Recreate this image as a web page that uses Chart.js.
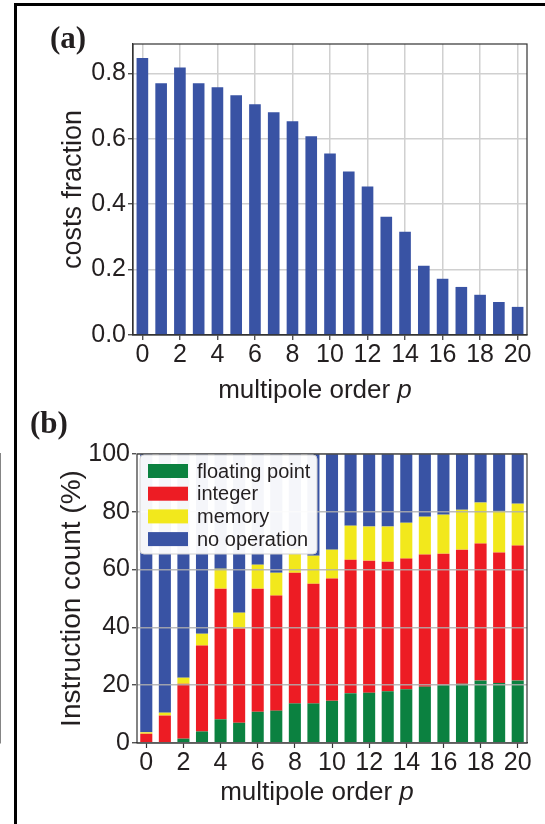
<!DOCTYPE html>
<html>
<head>
<meta charset="utf-8">
<script src="https://cdn.jsdelivr.net/npm/chart.js@4.4.1/dist/chart.umd.min.js"></script>
<style>
    html, body { margin: 0; padding: 0; background: #fff; }
    #page { position: relative; width: 545px; height: 824px; overflow: hidden; background: #fff; }
    .panel { position: absolute; left: 0; }
    .tag { position: absolute; font: bold 31px "Liberation Serif", "DejaVu Serif", serif;
           line-height: 31px; color: #231f20; }
</style>
</head>
<body>
<div id="page">
    <canvas id="costChart" class="panel" style="top:0" width="545" height="410"></canvas>
    <canvas id="instrChart" class="panel" style="top:410px" width="545" height="414"></canvas>
    <span class="tag" style="left:50px;top:22px">(a)</span>
    <span class="tag" style="left:30px;top:407px">(b)</span>
</div>
<script>
// Data
const orders = ['0', '1', '2', '3', '4', '5', '6', '7', '8', '9', '10',
    '11', '12', '13', '14', '15', '16', '17', '18', '19', '20'];

// (a) costs fraction per multipole order
const costFraction = [0.847, 0.770, 0.818, 0.770, 0.758, 0.733, 0.706, 0.681, 0.654, 0.608, 0.555,
    0.500, 0.454, 0.362, 0.316, 0.212, 0.172, 0.147, 0.123, 0.101, 0.086];
const costTicks = [0, 0.2, 0.4, 0.6, 0.8];

// (b) instruction count (%) per category, stacked bottom to top
const floatingPoint = [0, 0, 1.5, 4.0, 8.2, 7.0, 10.8, 11.2, 13.7, 13.7, 14.6,
    17.2, 17.4, 17.9, 18.6, 19.5, 20.0, 20.5, 21.6, 20.8, 21.6];
const integerOps = [3.2, 9.5, 19.0, 29.7, 45.2, 32.6, 42.6, 39.8, 45.2, 41.4, 42.3,
    46.2, 45.7, 44.8, 45.2, 45.7, 45.5, 46.4, 47.4, 45.1, 46.7];
const memoryOps = [0.5, 1.0, 2.1, 4.1, 6.9, 5.5, 8.3, 7.9, 8.1, 9.7, 10.0,
    11.8, 11.8, 12.2, 12.4, 13.1, 13.5, 13.8, 14.2, 14.4, 14.5];
const noOperation = [96.3, 89.5, 77.4, 62.2, 39.7, 54.9, 38.3, 41.1, 33.0, 35.2, 33.1,
    24.8, 25.1, 25.1, 23.8, 21.7, 21.0, 19.3, 16.8, 19.7, 17.2];

const FONT = '"Liberation Sans", Arial, Helvetica, sans-serif';
const TEXT = '#231f20';
const AXIS = '#333333';
const BLUE = '#3953a4';
const GREEN = '#0b8140';
const RED = '#ed1c24';
const YELLOW = '#f2e81c';

Chart.defaults.font.family = FONT;
Chart.defaults.color = TEXT;

// only even orders carry a label, tick and (in a) a grid line
const evenOnly = (ctx, color) => (ctx.index % 2 === 0 ? color : 'rgba(0,0,0,0)');

// Box around the plot area (matplotlib style spines) + the figure's outer rule
const plotFrame = {
    id: 'plotFrame',
    afterDraw(chart, args, opts) {
        const { ctx, chartArea: a, width, height } = chart;
        ctx.save();
        ctx.strokeStyle = opts.color;
        ctx.lineWidth = opts.width;
        ctx.strokeRect(a.left, a.top, a.right - a.left, a.bottom - a.top);

        // outer figure rule: left edge, plus top edge on the first panel
        ctx.strokeStyle = '#000';
        ctx.lineWidth = 3;
        ctx.beginPath();
        ctx.moveTo(15.5, opts.ruleTop ? 3 : 0);
        ctx.lineTo(15.5, height);
        if (opts.ruleTop) {
            ctx.moveTo(14, 4.5);
            ctx.lineTo(width, 4.5);
        }
        ctx.stroke();
        ctx.restore();
    }
};

// x axis title with an italic symbol at the end
const xTitle = {
    id: 'xTitle',
    afterDraw(chart, args, opts) {
        const ctx = chart.ctx;
        const normal = `${opts.size}px ${FONT}`;
        const italic = `italic ${opts.size}px ${FONT}`;
        ctx.save();
        ctx.fillStyle = TEXT;
        ctx.textAlign = 'left';
        ctx.textBaseline = 'alphabetic';
        ctx.font = normal;
        const w1 = ctx.measureText(opts.text).width;
        ctx.font = italic;
        const w2 = ctx.measureText(opts.symbol).width;
        const x = opts.centerX - (w1 + w2) / 2;
        ctx.font = normal;
        ctx.fillText(opts.text, x, opts.baseline);
        ctx.font = italic;
        ctx.fillText(opts.symbol, x + w1, opts.baseline);
        ctx.restore();
    }
};

// legend drawn in a white box inside the plot area
const boxLegend = {
    id: 'boxLegend',
    afterDraw(chart, args, opts) {
        if (!opts.display) return;
        const { ctx, chartArea: a } = chart;
        const x = a.left + opts.dx, y = a.top + opts.dy, w = opts.width, h = opts.height, r = 4;
        ctx.save();
        ctx.beginPath();
        ctx.moveTo(x + r, y);
        ctx.arcTo(x + w, y, x + w, y + h, r);
        ctx.arcTo(x + w, y + h, x, y + h, r);
        ctx.arcTo(x, y + h, x, y, r);
        ctx.arcTo(x, y, x + w, y, r);
        ctx.closePath();
        ctx.fillStyle = 'rgba(255,255,255,0.95)';
        ctx.fill();
        ctx.strokeStyle = '#d0d0d0';
        ctx.lineWidth = 1;
        ctx.stroke();

        ctx.font = `${opts.size}px ${FONT}`;
        ctx.textBaseline = 'middle';
        ctx.textAlign = 'left';
        chart.data.datasets.forEach((ds, i) => {
            const cy = y + opts.firstRow + i * opts.rowGap;
            ctx.fillStyle = ds.backgroundColor;
            ctx.fillRect(x + 8, cy - 7, 40, 14);
            ctx.fillStyle = TEXT;
            ctx.fillText(ds.label, x + 57, cy + 1);
        });
        ctx.restore();
    }
};

const tickFont = { size: 25 };

// (a) costs fraction
new Chart(document.getElementById('costChart'), {
    type: 'bar',
    data: {
        labels: orders,
        datasets: [{
            label: 'costs fraction',
            data: costFraction,
            backgroundColor: BLUE,
            barPercentage: 0.62,
            categoryPercentage: 1
        }]
    },
    options: {
        responsive: false,
        animation: false,
        layout: { padding: { top: 44, right: 18, left: 0, bottom: 0 } },
        plugins: {
            legend: { display: false },
            tooltip: { enabled: false },
            plotFrame: { color: AXIS, width: 1.2, ruleTop: true },
            xTitle: { text: 'multipole order ', symbol: 'p', size: 26, centerX: 315, baseline: 398 },
            boxLegend: { display: false }
        },
        scales: {
            x: {
                offset: true,
                grid: {
                    offset: false,
                    color: ctx => evenOnly(ctx, '#d0d0d0'),
                    lineWidth: 1.5,
                    tickLength: 5,
                    tickColor: ctx => evenOnly(ctx, AXIS),
                    tickWidth: 1.2
                },
                border: { color: AXIS, width: 1.2 },
                ticks: {
                    autoSkip: false,
                    maxRotation: 0,
                    padding: 0,
                    font: tickFont,
                    callback: (v, i) => (i % 2 ? '' : orders[i])
                },
                afterFit: s => { s.height = 75; }
            },
            y: {
                min: 0,
                max: 0.89,
                afterBuildTicks: s => {
                    s.ticks = costTicks.map(v => ({ value: v }));
                },
                grid: { color: '#d0d0d0', lineWidth: 1.5, tickLength: 5, tickColor: AXIS, tickWidth: 1.2 },
                border: { color: AXIS, width: 1.2 },
                ticks: { padding: 2, font: tickFont, callback: v => v.toFixed(1) },
                title: {
                    display: true,
                    text: 'costs fraction',
                    font: { size: 27 },
                    padding: { top: 57, bottom: 0 }
                },
                afterFit: s => { s.width = 133; }
            }
        }
    },
    plugins: [plotFrame, xTitle, boxLegend]
});

// (b) instruction mix
new Chart(document.getElementById('instrChart'), {
    type: 'bar',
    data: {
        labels: orders,
        datasets: [
            { label: 'floating point', data: floatingPoint, backgroundColor: GREEN },
            { label: 'integer', data: integerOps, backgroundColor: RED },
            { label: 'memory', data: memoryOps, backgroundColor: YELLOW },
            { label: 'no operation', data: noOperation, backgroundColor: BLUE }
        ]
    },
    options: {
        responsive: false,
        animation: false,
        datasets: { bar: { barPercentage: 0.65, categoryPercentage: 1, borderWidth: 0 } },
        layout: { padding: { top: 44, right: 18, left: 0, bottom: 0 } },
        plugins: {
            legend: { display: false },
            tooltip: { enabled: false },
            plotFrame: { color: AXIS, width: 1.2, ruleTop: false },
            xTitle: { text: 'multipole order ', symbol: 'p', size: 26, centerX: 317, baseline: 390 },
            boxLegend: { display: true, dx: 3, dy: 1, width: 177, height: 99, firstRow: 16, rowGap: 22.7, size: 20 }
        },
        scales: {
            x: {
                stacked: true,
                offset: true,
                grid: {
                    offset: false,
                    drawOnChartArea: false,
                    tickLength: 5,
                    tickColor: ctx => evenOnly(ctx, AXIS),
                    tickWidth: 1.2
                },
                border: { color: AXIS, width: 1.2 },
                ticks: {
                    autoSkip: false,
                    maxRotation: 0,
                    padding: 0,
                    font: tickFont,
                    callback: (v, i) => (i % 2 ? '' : orders[i])
                },
                afterFit: s => { s.height = 81; }
            },
            y: {
                stacked: true,
                min: 0,
                max: 100,
                ticks: { stepSize: 20, padding: 2, font: tickFont },
                grid: { color: 'rgba(175,175,175,0.85)', lineWidth: 1.5, z: 1, tickLength: 5, tickColor: AXIS, tickWidth: 1.2 },
                border: { color: AXIS, width: 1.2 },
                title: {
                    display: true,
                    text: 'Instruction count (%)',
                    font: { size: 28 },
                    padding: { top: 55, bottom: 0 }
                },
                afterFit: s => { s.width = 137; }
            }
        }
    },
    plugins: [plotFrame, xTitle, boxLegend]
});
</script>
</body>
</html>
